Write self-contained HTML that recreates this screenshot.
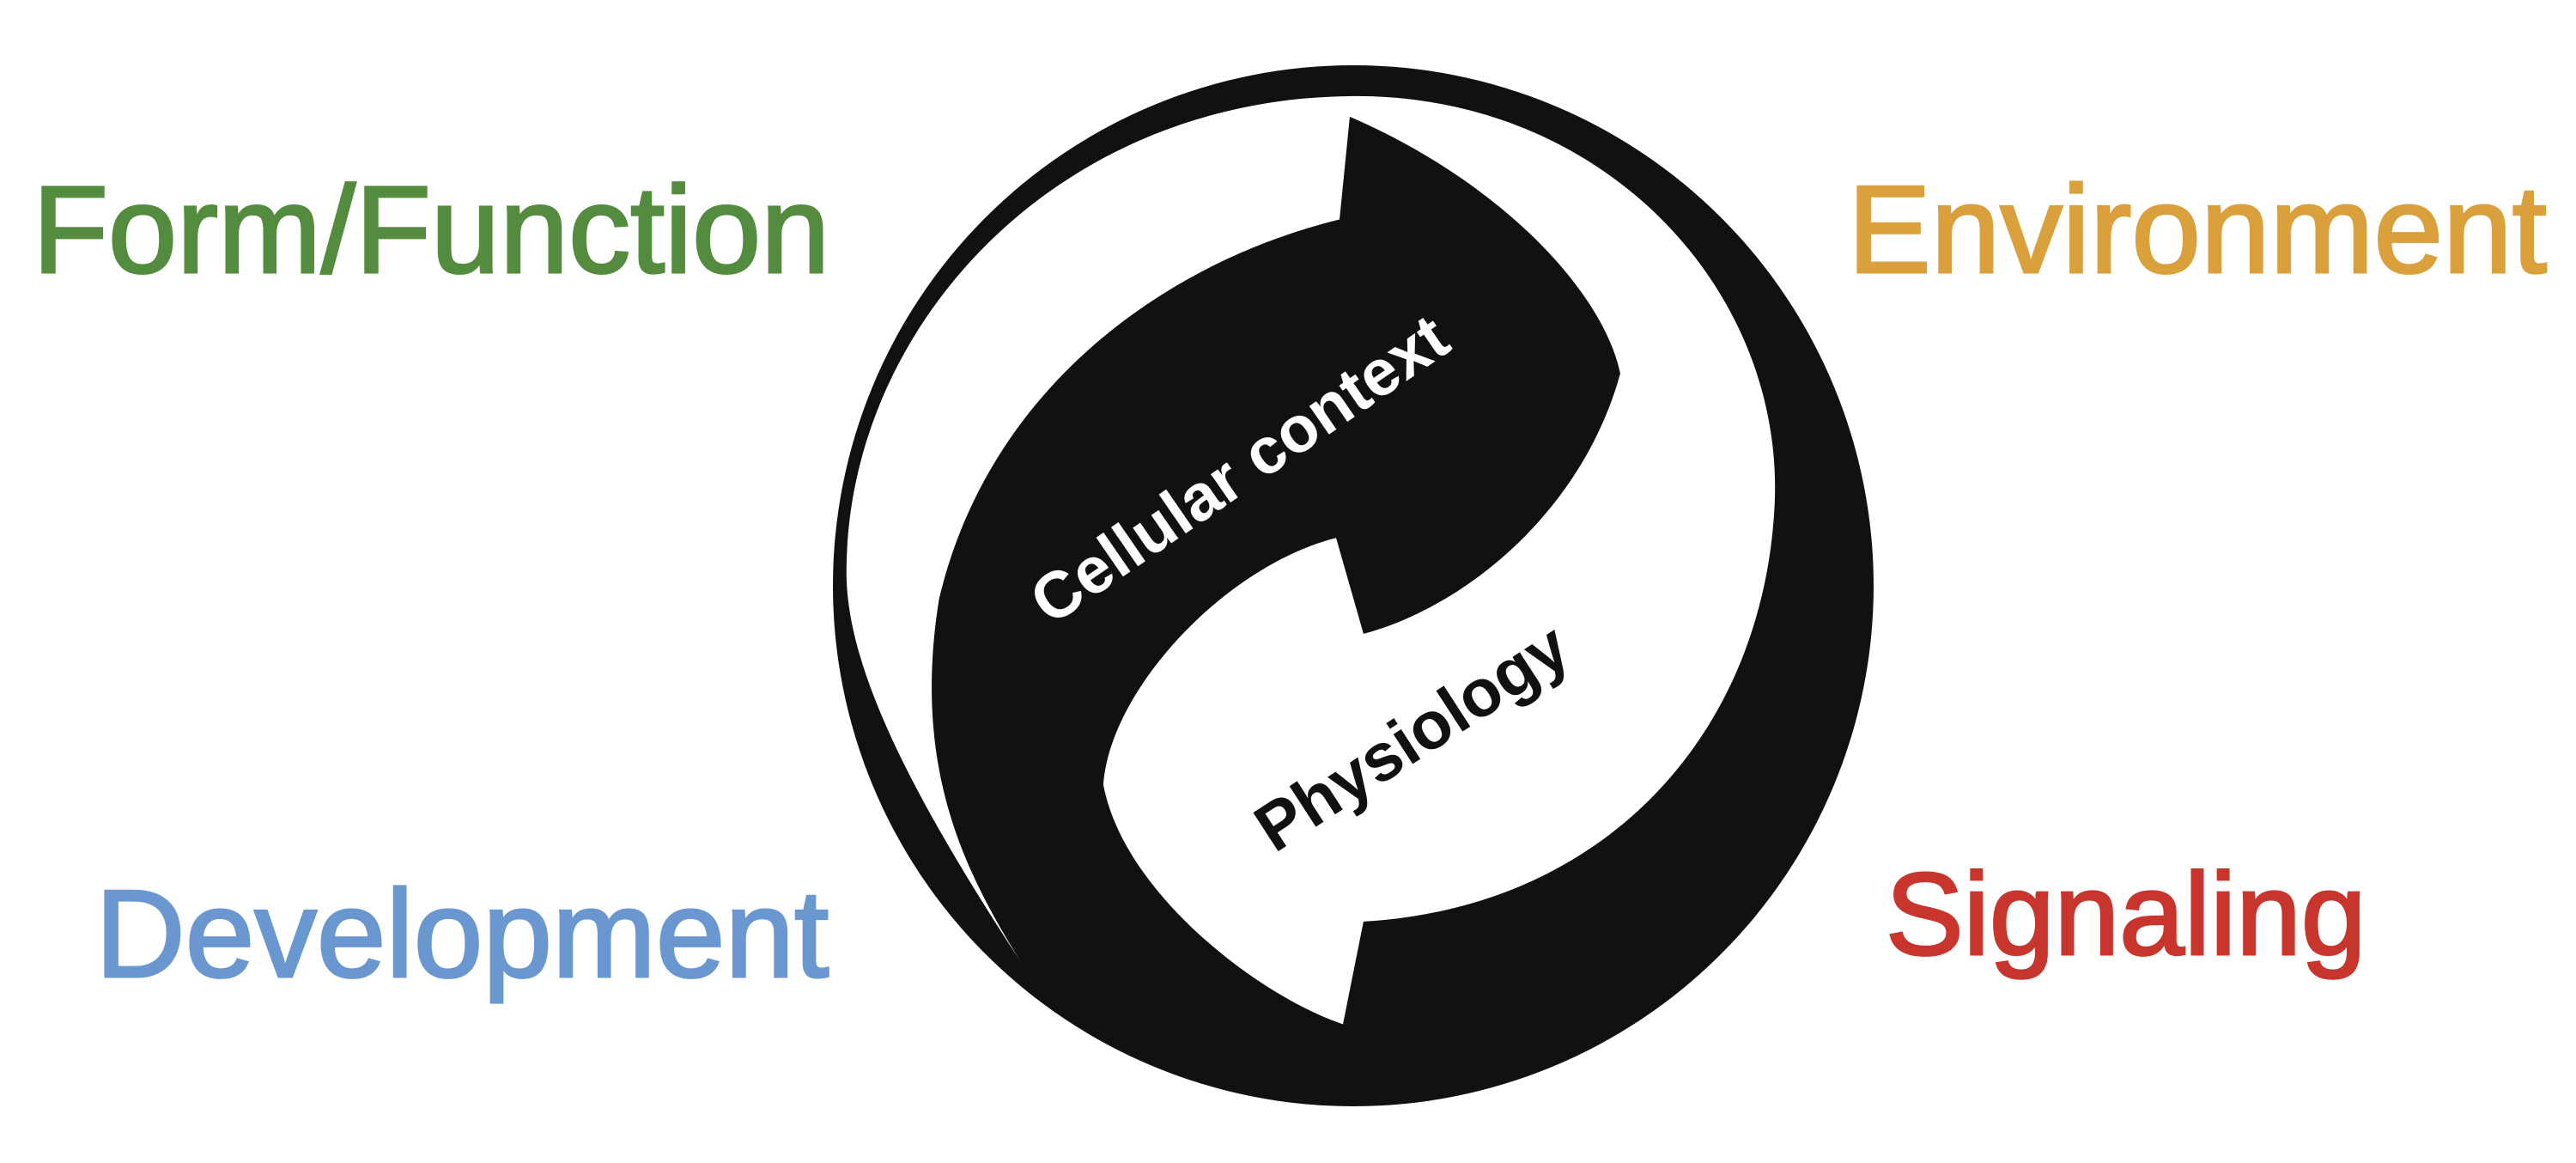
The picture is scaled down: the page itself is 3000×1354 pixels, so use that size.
<!DOCTYPE html>
<html><head><meta charset="utf-8"><style>
html,body{margin:0;padding:0;background:#fff;}
body{position:relative;width:3000px;height:1354px;overflow:hidden;}
svg{display:block;position:absolute;left:0;top:0;}
.rt{position:absolute;font-family:"Liberation Sans","DejaVu Sans",sans-serif;font-weight:bold;white-space:nowrap;width:1000px;text-align:center;height:100px;line-height:100px;margin-left:-500px;margin-top:-50px;}
</style></head><body>
<svg width="3000" height="1354" viewBox="0 0 3000 1354" xmlns="http://www.w3.org/2000/svg">
<g font-family="'Liberation Sans', 'DejaVu Sans', sans-serif" stroke-width="3">
<text x="38" y="317" font-size="144" fill="#548c3f" stroke="#548c3f">Form/Function</text>
<text x="2152" y="317" font-size="145" fill="#d9a03b" stroke="#d9a03b">Environment</text>
<text x="111" y="1137" font-size="145" fill="#6b97d0" stroke="#6b97d0">Development</text>
<text x="2196" y="1111" font-size="136" fill="#c8352c" stroke="#c8352c">Signaling</text>
</g>
<circle cx="1576" cy="682" r="606" fill="#111"/>
<g transform="translate(950,100) scale(0.7974)">
<path fill="#fff" d="M300,1280 C150,1050 40,850 45,700 C50,350 350,20 780,15 C1150,10 1420,300 1400,620 C1380,950 1150,1200 800,1220 L770,1370 C650,1330 450,1180 420,1020 C430,880 600,700 760,660 L800,800 C950,760 1120,620 1175,420 C1150,300 1000,140 780,45 L765,195 C500,260 250,450 180,750 C140,1000 220,1150 300,1280 Z"/>
</g>
</svg>
<div class="rt" style="left:1444px;top:547px;font-size:76px;color:#fff;transform:rotate(-34.6deg);">Cellular context</div>
<div class="rt" style="left:1644px;top:858px;font-size:78px;color:#111;transform:rotate(-33deg);">Physiology</div>
</body></html>
